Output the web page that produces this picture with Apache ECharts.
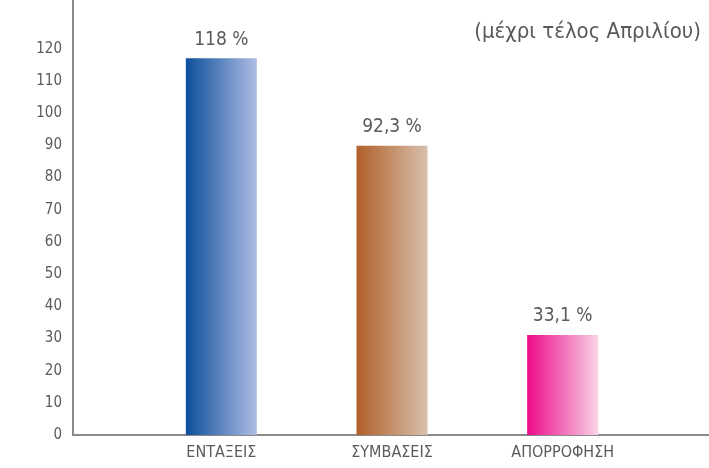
<!DOCTYPE html>
<html>
<head>
<meta charset="utf-8">
<script src="https://cdn.jsdelivr.net/npm/echarts@6/dist/echarts.min.js"></script>
<style>
  html, body { margin: 0; padding: 0; background: #fff; }
  #main { width: 709px; height: 468px; }
</style>
</head>
<body>
<div id="main"></div>
<script>
// κατηγορίες και τιμές (ύψος στηλών όπως σχεδιάστηκαν)
var categories = ["ΕΝΤΑΞΕΙΣ", "ΣΥΜΒΑΣΕΙΣ", "ΑΠΟΡΡΟΦΗΣΗ"];
var barValues = [117.1, 89.9, 31.1];
var barLabels = ["118 %", "92,3 %", "33,1 %"];
var subtitle = "(μέχρι τέλος Απριλίου)";

var font = "'Liberation Sans Narrow', 'DejaVu Sans Condensed', sans-serif";
var textColor = "#5a5a5a";
var axisColor = "#8a8a8a";

// χρώματα διαβάθμισης (αριστερά -> δεξιά)
var gradients = [
  ["#0d4f9c", "#aebde3"],
  ["#b05f2a", "#d8c0ab"],
  ["#ec0a8a", "#f9d3e6"]
];

function grad(c) {
  return new echarts.graphic.LinearGradient(0, 0, 1, 0, [
    { offset: 0, color: c[0] },
    { offset: 1, color: c[1] }
  ]);
}

var chart = echarts.init(document.getElementById("main"));
chart.setOption({
  animation: false,
  title: {
    text: subtitle,
    right: 3,
    top: 16,
    textStyle: { fontFamily: font, fontSize: 22, fontWeight: "normal", color: textColor }
  },
  grid: [
    { left: 136, right: 61, top: 0, bottom: 33 },
    { left: 73, right: 0, top: 0, bottom: 33 }
  ],
  xAxis: [
    {
      type: "category",
      gridIndex: 0,
      data: categories,
      axisLine: { show: false },
      axisTick: { show: false },
      axisLabel: { fontFamily: font, fontSize: 16, color: textColor, margin: 10 }
    },
    {
      type: "value",
      gridIndex: 1,
      min: 0,
      max: 1,
      axisLine: { show: true, lineStyle: { color: axisColor, width: 2 } },
      axisTick: { show: false },
      axisLabel: { show: false },
      splitLine: { show: false }
    }
  ],
  yAxis: [
    {
      type: "value",
      gridIndex: 0,
      min: 0,
      max: 135.2,
      interval: 10,
      offset: 63,
      axisLine: { show: true, lineStyle: { color: axisColor, width: 2 } },
      axisTick: { show: false },
      splitLine: { show: false },
      axisLabel: {
        fontFamily: font,
        fontSize: 15,
        color: textColor,
        margin: 11,
        formatter: function (v) { return v > 120 ? "" : v; }
      }
    },
    {
      type: "value",
      gridIndex: 1,
      min: 0,
      max: 1,
      show: false
    }
  ],
  series: [
    {
      type: "bar",
      xAxisIndex: 0,
      yAxisIndex: 0,
      barWidth: 71,
      data: barValues.map(function (v, i) {
        return {
          value: v,
          itemStyle: { color: grad(gradients[i]) },
          label: { formatter: barLabels[i] }
        };
      }),
      label: {
        show: true,
        position: "top",
        distance: 9,
        fontFamily: font,
        fontSize: 19,
        color: textColor
      }
    }
  ]
});
</script>
</body>
</html>
